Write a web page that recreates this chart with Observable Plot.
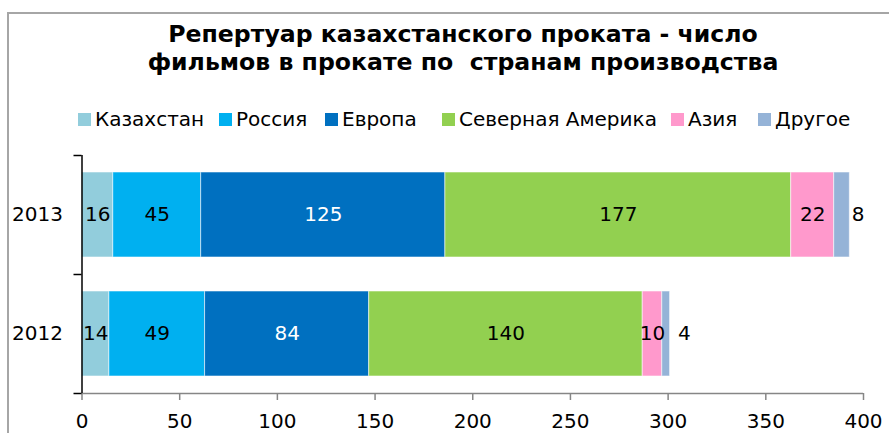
<!DOCTYPE html>
<html>
<head>
<meta charset="utf-8">
<script src="https://cdn.jsdelivr.net/npm/d3@7"></script>
<script src="https://cdn.jsdelivr.net/npm/@observablehq/plot@0.6"></script>
<style>
  html, body { margin: 0; padding: 0; background: #fff; }
  body { width: 889px; height: 433px; position: relative; overflow: hidden; font-family: "DejaVu Sans", Verdana, sans-serif; color: #000; }
  #frame { position: absolute; left: 7px; top: 12px; width: 1000px; height: 1000px; border-left: 2px solid #a6a6a6; border-top: 2px solid #a6a6a6; }
  #title { position: absolute; left: 0; width: 926px; top: 20px; text-align: center; font-weight: bold; font-size: 23.6px; line-height: 28px; white-space: pre; }
  .leg { position: absolute; top: 106px; height: 26px; display: flex; align-items: center; font-size: 20px; white-space: nowrap; }
  .sw { width: 13px; height: 13px; margin-right: 4px; }
  #chart { position: absolute; left: 0; top: 140px; }
</style>
</head>
<body>
<div id="frame"></div>
<div id="title">Репертуар казахстанского проката - число
фильмов в прокате по  странам производства</div>
<div id="legend"></div>
<div id="chart"></div>
<script>
// ---- data ----
const years = ["2013", "2012"];
const countries = ["Казахстан", "Россия", "Европа", "Северная Америка", "Азия", "Другое"];
const colors = ["#92CDDC", "#00B0F0", "#0070C0", "#92D050", "#FF99CC", "#95B3D7"];
const kazakhstan = [16, 14];
const russia = [45, 49];
const europe = [125, 84];
const northAmerica = [177, 140];
const asia = [22, 10];
const other = [8, 4];
const xTicks = [0, 50, 100, 150, 200, 250, 300, 350, 400];

const series = [kazakhstan, russia, europe, northAmerica, asia, other];
const rows = [];
years.forEach((year, i) => {
  countries.forEach((country, j) => {
    rows.push({year, country, value: series[j][i]});
  });
});

// ---- legend (HTML, above the SVG) ----
const legendLeft = [78, 219, 325, 442, 671, 758];
const legend = document.getElementById("legend");
countries.forEach((c, j) => {
  const item = document.createElement("div");
  item.className = "leg";
  item.style.left = legendLeft[j] + "px";
  const sw = document.createElement("span");
  sw.className = "sw";
  sw.style.background = colors[j];
  const tx = document.createElement("span");
  tx.textContent = c;
  item.appendChild(sw);
  item.appendChild(tx);
  legend.appendChild(item);
});

// ---- chart ----
const H = 293, MT = 15, MB = 40;
const pIn = 0.286, pOut = 0.143;
const step = (H - MT - MB) / (years.length - pIn + 2 * pOut);
const stackOpts = {x: "value", y: "year", z: "country", order: countries};

const chart = Plot.plot({
  width: 889,
  height: H,
  marginTop: MT,
  marginBottom: MB,
  marginLeft: 81.5,
  marginRight: 26,
  style: {fontFamily: "DejaVu Sans, Verdana, sans-serif", fontSize: "20px", color: "black", background: "transparent", overflow: "visible"},
  x: {domain: [0, 400], label: null},
  y: {domain: years, paddingInner: pIn, paddingOuter: pOut, label: null},
  color: {domain: countries, range: colors},
  marks: [
    Plot.barX(rows, Plot.stackX({...stackOpts, fill: "country", stroke: "white", strokeOpacity: 0.55, strokeWidth: 1})),
    // value labels centred in segments
    Plot.text(rows, Plot.stackX({...stackOpts, text: d => (d.country === "Европа" || d.country === "Другое") ? "" : d.value, fill: "black"})),
    Plot.text(rows, Plot.stackX({...stackOpts, text: d => d.country === "Европа" ? d.value : "", fill: "white"})),
    // "Другое" labels placed just past the bar end
    Plot.text(rows, Plot.stackX2({...stackOpts, text: d => (d.country === "Другое" && d.year === "2013") ? d.value : "", textAnchor: "start", dx: 2, fill: "black"})),
    Plot.text(rows, Plot.stackX2({...stackOpts, text: d => (d.country === "Другое" && d.year === "2012") ? d.value : "", textAnchor: "start", dx: 8, fill: "black"})),
    // x axis
    Plot.ruleY([years[years.length - 1]], {stroke: "#868686", strokeWidth: 1.5, dy: step / 2}),
    Plot.axisX({ticks: xTicks, tickSize: 7, tickPadding: 13, stroke: "#868686", strokeWidth: 1.5, fill: "black", label: null}),
    // y axis
    Plot.ruleX([0], {stroke: "black", strokeWidth: 1.5}),
    Plot.axisY({tickSize: 0, tickPadding: 19, fill: "black", label: null}),
    Plot.axisY({tickSize: 8, tickFormat: () => "", dy: -step / 2, stroke: "black", strokeWidth: 1.5, label: null}),
    Plot.axisY({ticks: [years[years.length - 1]], tickSize: 8, tickFormat: () => "", dy: step / 2, stroke: "black", strokeWidth: 1.5, label: null})
  ]
});
document.getElementById("chart").appendChild(chart);
</script>
</body>
</html>
